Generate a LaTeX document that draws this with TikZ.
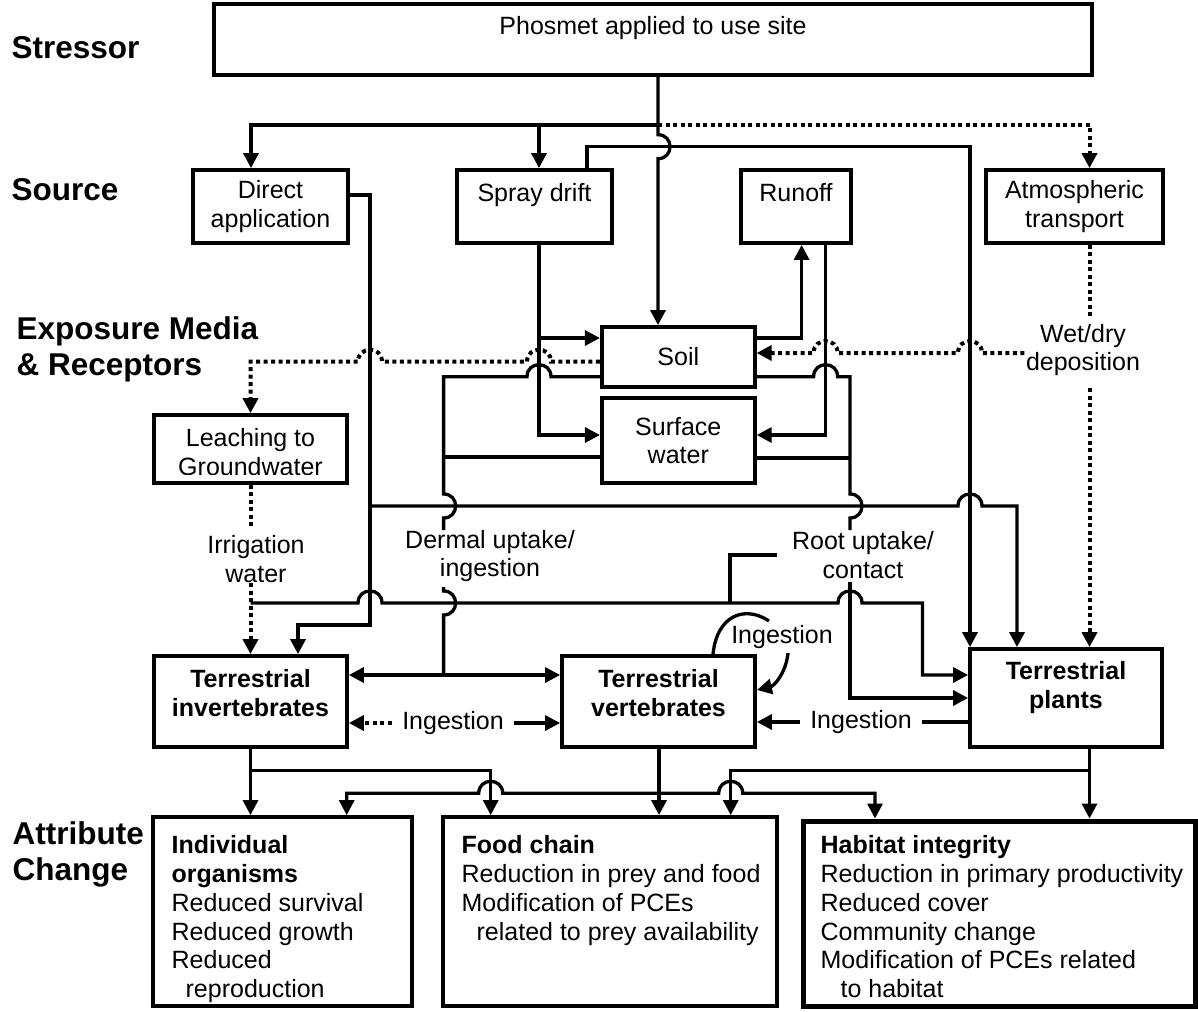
\documentclass[tikz,border=0pt]{standalone}
\usepackage{fontspec}
\setmainfont{Liberation Sans}
\usetikzlibrary{arrows.meta}
\newcommand{\mytxt}{\fontsize{25}{28.8}\selectfont}
\newcommand{\mylab}{\fontsize{31.5}{36}\selectfont\bfseries}
\begin{document}
\begin{tikzpicture}[x=1pt,y=-1pt,line width=3.3pt,
  box/.style={draw,line width=3.8pt,inner sep=0pt,align=center,font=\mytxt},
  txt/.style={inner sep=0pt,align=center,font=\mytxt},
  btxt/.style={inner sep=0pt,align=center,font=\mytxt\bfseries},
  ltxt/.style={anchor=north west,inner sep=0pt,align=left,font=\mytxt},
  lab/.style={anchor=west,inner sep=0pt,align=left,font=\mylab},
  dotl/.style={line width=4pt,dash pattern=on 4pt off 3.5pt},
  arr/.style={-{Triangle[length=15pt,width=15pt]}},
  barr/.style={{Triangle[length=15pt,width=15pt]}-{Triangle[length=15pt,width=15pt]}}]
\useasboundingbox (0,0) rectangle (1198,1011);

% ---------- left labels
\node[lab] (lstress) at (10,48) {Stressor};
\node[lab] (lsource) at (10,190) {Source};
\node[lab] (lexpo) at (15,349) {Exposure Media\\\& Receptors};
\node[lab] (lattr) at (11,854) {Attribute\\Change};

% ---------- boxes
\node[box,minimum width=878pt,minimum height=71pt] (stress) at (653,39.5) {Phosmet applied to use site\\\mbox{}};
\node[box,minimum width=155pt,minimum height=73pt] (direct) at (270.5,206.5) {Direct\\application};
\node[box,minimum width=155pt,minimum height=73pt] (spray) at (534.5,206.5) {Spray drift\\\mbox{}};
\node[box,minimum width=110pt,minimum height=73pt] (runoff) at (796,206.5) {Runoff\\\mbox{}};
\node[box,minimum width=177pt,minimum height=73pt] (atmos) at (1074.5,206.5) {Atmospheric\\transport};
\node[box,minimum width=153pt,minimum height=60pt] (soil) at (678.3,357) {Soil};
\node[box,minimum width=153pt,minimum height=85pt] (surf) at (678.3,440.5) {Surface\\water};
\node[box,minimum width=193pt,minimum height=68pt] (leach) at (250.5,449) {};
\begin{scope}
  \clip (154,415) rectangle (347,474.5);
  \node[txt] (leachtxt) at (250.5,452) {Leaching to\\Groundwater};
\end{scope}
\node[box,minimum width=193pt,minimum height=91pt] (inv) at (250.5,701.5) {};
\node[btxt] (invtxt) at (250.5,693) {Terrestrial\\invertebrates};
\node[box,minimum width=193pt,minimum height=91pt] (vert) at (658.5,701.5) {};
\node[btxt] (verttxt) at (658.5,693) {Terrestrial\\vertebrates};
\node[box,minimum width=192pt,minimum height=98pt] (plants) at (1066,698) {};
\node[btxt] (planttxt) at (1066,687.5) {Terrestrial\\plants};
\node[box,minimum width=259pt,minimum height=189pt] (indiv) at (282.5,911.5) {};
\node[box,minimum width=334pt,minimum height=189pt] (food) at (610,911.5) {};
\node[box,line width=5pt,minimum width=392pt,minimum height=185pt] (habitat) at (999,913.5) {};
\node[ltxt] (indivtxt) at (170,834) {\textbf{Individual}\\\textbf{organisms}\\Reduced survival\\Reduced growth\\Reduced\\\hspace*{14pt}reproduction};
\node[ltxt] (foodtxt) at (460,834) {\textbf{Food chain}\\Reduction in prey and food\\Modification of PCEs\\\hspace*{15pt}related to prey availability};
\node[ltxt] (habtxt) at (819,834) {\textbf{Habitat integrity}\\Reduction in primary productivity\\Reduced cover\\Community change\\Modification of PCEs related\\\hspace*{20pt}to habitat};

% ---------- connector labels
\node[txt] (irr) at (256,559) {Irrigation\\water};
\node[txt] (derm) at (490,556) {Dermal uptake/\\ingestion};
\node[txt] (root) at (863,555) {Root uptake/\\contact};
\node[txt] (wetdry) at (1083,350) {Wet/dry\\deposition};
\node[txt,inner xsep=9pt] (ing1) at (453,723) {Ingestion};
\node[txt,inner xsep=9pt] (ing2) at (861,722) {Ingestion};
\node[txt] (ing3) at (782,637) {Ingestion};

\coordinate (irrA) at (250.5,527);
\coordinate (irrB) at (250.5,583);
\coordinate (dermA) at (443.6,530);
\coordinate (dermB) at (443.6,587);
\coordinate (rootA) at (850,530);
\coordinate (rootB) at (850,582);
\coordinate (wdA) at (1089.5,316);
\coordinate (wdB) at (1089.5,388);
\coordinate (stub) at (776.7,555);
\coordinate (loopA) at (769,621);
\coordinate (loopB) at (788,653);

% ---------- stressor to sources
\draw[arr] (stress.south -| 658,0) -- (658,134.7) .. controls (674,134.7) and (674,158.7) .. (658,158.7) -- (soil.north -| 658,0);
\draw[arr] (658,125) -- (251,125) -- (direct.north -| 251,0);
\draw[arr] (539,125) -- (spray.north -| 539,0);
\draw[dotl,arr] (658,125) -- (1089.5,125) -- (atmos.north -| 1089.5,0);

% ---------- spray drift
\draw[arr] (spray.north -| 587,0) -- (587,146.7) -- (970,146.7) -- (plants.north -| 970,0);
\draw[arr] (spray.south -| 539,0) -- (539,435) -- (surf.west |- 0,435);
\draw[arr] (539,338) -- (soil.west |- 0,338);

% ---------- runoff
\draw[arr] (soil.east |- 0,338) -- (801.6,338) -- (runoff.south -| 801.6,0);
\draw[arr] (runoff.south -| 825.6,0) -- (825.6,435) -- (surf.east |- 0,435);

% ---------- root uptake
\draw (soil.east |- 0,376.7) -- (813.6,376.7) .. controls (813.6,360.7) and (837.6,360.7) .. (837.6,376.7) -- (850,376.7) -- (850,494) .. controls (866,494) and (866,518) .. (850,518) -- (rootA);
\draw (surf.east |- 0,458) -- (850,458);
\draw[arr] (rootB) -- (850,698) -- (plants.west |- 0,698);

% ---------- dermal uptake
\draw (soil.west |- 0,376.7) -- (551,376.7) .. controls (551,360.7) and (527,360.7) .. (527,376.7) -- (443.6,376.7) -- (443.6,494) .. controls (459.6,494) and (459.6,518) .. (443.6,518) -- (dermA);
\draw (surf.west |- 0,457) -- (443.6,457);
\draw (dermB) -- (443.6,591) .. controls (459.6,591) and (459.6,615) .. (443.6,615) -- (443.6,675);
\draw[barr] (inv.east |- 0,675) -- (vert.west |- 0,675);

% ---------- leaching and deposition
\draw[dotl,arr] (soil.west |- 0,361.7) -- (551,361.7) .. controls (551,345.7) and (527,345.7) .. (527,361.7) -- (382,361.7) .. controls (382,345.7) and (358,345.7) .. (358,361.7) -- (250.5,361.7) -- (leach.north -| 250.5,0);
\draw[dotl,arr] (wetdry.west |- 0,353) -- (982,353) .. controls (982,337) and (958,337) .. (958,353) -- (837.6,353) .. controls (837.6,337) and (813.6,337) .. (813.6,353) -- (soil.east |- 0,353);
\draw[dotl] (atmos.south -| 1089.5,0) -- (wdA);
\draw[dotl,arr] (wdB) -- (plants.north -| 1089.5,0);
\draw[dotl] (leach.south -| 250.5,0) -- (irrA);
\draw[dotl,arr] (irrB) -- (inv.north -| 250.5,0);

% ---------- direct application
\draw[arr] (direct.east |- 0,195) -- (370,195) -- (370,625) -- (298,625) -- (inv.north -| 298,0);
\draw[arr] (370,506) -- (958,506) .. controls (958,490) and (982,490) .. (982,506) -- (1017,506) -- (plants.north -| 1017,0);

% ---------- irrigation to plants
\draw[arr] (250.5,603) -- (358,603) .. controls (358,587) and (382,587) .. (382,603) -- (838,603) .. controls (838,587) and (862,587) .. (862,603) -- (922.5,603) -- (922.5,675) -- (plants.west |- 0,675);
\draw (stub) -- (730,555) -- (730,603);

% ---------- ingestion
\draw[dotl,arr] (ing1.west) -- (inv.east |- ing1.west);
\draw[arr] (ing1.east) -- (vert.west |- ing1.east);
\draw[arr] (ing2.west) -- (vert.east |- ing2.west);
\draw (plants.west |- ing2.east) -- (ing2.east);
\draw (vert.north -| 713,0) .. controls (717,615) and (745,605) .. (loopA);
\draw[arr] (loopB) .. controls (786,673) and (774,686) .. (vert.east |- 0,690);

% ---------- attribute change
\draw[arr] (inv.south -| 250.5,0) -- (indiv.north -| 250.5,0);
\draw[arr] (250.5,770.7) -- (490.7,770.7) -- (food.north -| 490.7,0);
\draw[arr] (vert.south -| 659,0) -- (food.north -| 659,0);
\draw[barr] (indiv.north -| 346.7,0) -- (346.7,793.3) -- (478.7,793.3) .. controls (478.7,777.3) and (502.7,777.3) .. (502.7,793.3) -- (718.7,793.3) .. controls (718.7,777.3) and (742.7,777.3) .. (742.7,793.3) -- (875,793.3) -- (habitat.north -| 875,0);
\draw[arr] (plants.south -| 1089.5,0) -- (habitat.north -| 1089.5,0);
\draw[arr] (1089.5,770.7) -- (730.7,770.7) -- (food.north -| 730.7,0);
\end{tikzpicture}
\end{document}
